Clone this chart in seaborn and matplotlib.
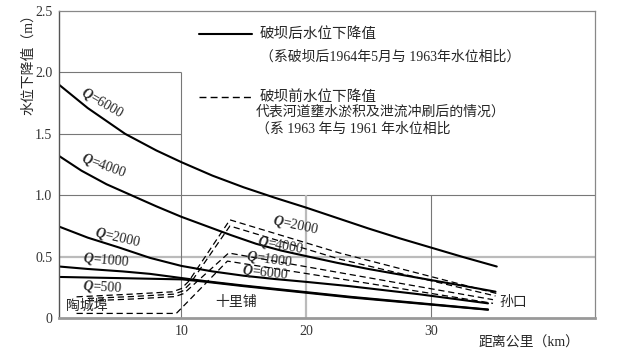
import numpy as np
import pandas as pd
import matplotlib
matplotlib.use("Agg")
from matplotlib import pyplot as plt
import seaborn as sns

# after dam break (solid), 1964-05 vs 1963
km_6000 = [0.2, 2.5, 5.5, 8.0, 10.0, 12.5, 15.0, 17.5, 20.0, 22.5, 25.0, 27.5, 30.0, 32.5, 35.3]
dr_6000 = [1.90, 1.71, 1.50, 1.365, 1.27, 1.16, 1.065, 0.98, 0.90, 0.815, 0.73, 0.65, 0.575, 0.50, 0.42]
km_4000 = [0.2, 2.0, 4.0, 6.0, 8.0, 10.0, 12.0, 14.0, 16.0, 18.0, 20.0, 22.5, 25.0, 27.5, 30.0, 32.5, 35.2]
dr_4000 = [1.32, 1.20, 1.09, 1.0, 0.91, 0.825, 0.75, 0.675, 0.605, 0.55, 0.505, 0.45, 0.40, 0.355, 0.31, 0.265, 0.215]
km_2000 = [0.2, 2.5, 5.0, 7.5, 10.0, 12.5, 15.0, 17.5, 20.0, 23.5, 29.0, 34.6]
dr_2000 = [0.745, 0.655, 0.575, 0.49, 0.425, 0.38, 0.345, 0.318, 0.295, 0.26, 0.195, 0.12]
km_1000 = [0.2, 2.5, 5.3, 7.5, 10.1, 12.0, 15.0, 23.6, 34.6]
dr_1000 = [0.42, 0.40, 0.38, 0.36, 0.325, 0.30, 0.265, 0.173, 0.07]
km_500 = [0.2, 5.3, 10.1, 12.0, 15.0, 23.6, 34.6]
dr_500 = [0.335, 0.325, 0.315, 0.295, 0.26, 0.168, 0.068]

# before dam break (dashed), 1963 vs 1961
kb_2000 = [1.6, 6.0, 9.3, 10.0, 10.6, 13.9, 22.7, 35.3]
db_2000 = [0.173, 0.195, 0.214, 0.24, 0.30, 0.80, 0.53, 0.20]
kb_4000 = [2.5, 6.0, 9.4, 10.1, 10.7, 13.9, 22.7, 35.2]
db_4000 = [0.16, 0.175, 0.195, 0.22, 0.28, 0.75, 0.48, 0.18]
kb_1000 = [2.5, 6.0, 9.5, 10.2, 10.8, 13.8, 22.7, 35.0]
db_1000 = [0.14, 0.155, 0.175, 0.20, 0.255, 0.53, 0.37, 0.15]
kb_6000 = [1.6, 9.6, 13.7, 22.7, 35.0]
db_6000 = [0.038, 0.038, 0.464, 0.32, 0.12]

rows = []
series = [("a6000", "after", km_6000, dr_6000), ("a4000", "after", km_4000, dr_4000),
          ("a2000", "after", km_2000, dr_2000), ("a1000", "after", km_1000, dr_1000),
          ("a500", "after", km_500, dr_500), ("b2000", "before", kb_2000, db_2000),
          ("b4000", "before", kb_4000, db_4000), ("b1000", "before", kb_1000, db_1000),
          ("b6000", "before", kb_6000, db_6000)]
for name, kind, xs, ys in series:
    for x, y in zip(xs, ys):
        rows.append({"km": x, "drop": y, "line": name, "kind": kind})
df = pd.DataFrame(rows)

sns.set_style("white")
plt.rcParams['font.family'] = ['Liberation Serif', 'Noto Sans CJK SC', 'DejaVu Sans']
plt.rcParams['mathtext.fontset'] = 'custom'
plt.rcParams['mathtext.bf'] = 'Liberation Serif:bold:italic'
plt.rcParams['mathtext.it'] = 'Liberation Serif:italic'
plt.rcParams['mathtext.rm'] = 'Liberation Serif'

fig = plt.figure(figsize=(6.22, 3.57), dpi=100)
ax = fig.add_axes([0.095, 0.109, 0.862, 0.860])

# partial grid
grid_dark = "#777777"
grid_light = "#bbbbbb"
ax.hlines([2.0, 1.5], 0.2, 10, color=grid_dark, lw=0.8)
ax.hlines(1.0, 0.2, 43.2, color=grid_dark, lw=0.8)
ax.hlines(0.5, 0.2, 43.2, color=grid_light, lw=1.6)
ax.vlines(10, 0, 2.0, color=grid_dark, lw=0.8)
ax.vlines(20, 0, 1.0, color=grid_light, lw=1.6)
ax.vlines(30, 0, 1.0, color=grid_dark, lw=0.8)

sns.lineplot(data=df, x="km", y="drop", units="line", estimator=None, style="kind",
             dashes={"after": "", "before": (5, 3)}, color="black", sort=False,
             legend=False, ax=ax)
for ln in ax.lines:
    if ln.get_linestyle() == '-':
        ln.set_linewidth(1.5)
    else:
        ln.set_linewidth(0.9)

ax.set_xlim(0.2, 43.2)
ax.set_ylim(0, 2.5)
ax.set_xticks([10, 20, 30])
ax.set_xticklabels(["10", "20", "30"])
ax.set_yticks([0, 0.5, 1.0, 1.5, 2.0, 2.5])
ax.set_yticklabels(["0", "0.5", "1.0", "1.5", "2.0", "2.5"])
ax.tick_params(length=0, labelsize=10, colors="#333333", pad=5)
ax.set_xlabel("")
ax.set_ylabel("")
for s in ["top", "right"]:
    ax.spines[s].set_color("#888888")
    ax.spines[s].set_linewidth(0.9)
ax.spines["bottom"].set_color("#999999")
ax.spines["bottom"].set_linewidth(2.0)
ax.spines["left"].set_color("#555555")
ax.spines["left"].set_linewidth(1.0)

fig.text(0.045, 0.83, "水位下降值（m）", rotation=90, ha="center", va="center", fontsize=10)
fig.text(0.85, 0.04, "距离公里（km）", ha="center", va="center", fontsize=10)

# curve labels
lab = dict(fontsize=10, ha="center", va="center", rotation_mode="anchor")
ax.text(3.7, 1.75, r"$\mathbf{Q}$=$\mathit{6000}$", rotation=-30, **lab)
ax.text(3.8, 1.24, r"$\mathbf{Q}$=$\mathit{4000}$", rotation=-20, **lab)
ax.text(4.9, 0.66, r"$\mathbf{Q}$=$\mathit{2000}$", rotation=-13, **lab)
ax.text(4.0, 0.47, r"$\mathbf{Q}$=$\mathit{1000}$", rotation=-5, **lab)
ax.text(3.7, 0.25, r"$\mathbf{Q}$=$\mathit{500}$", rotation=-3, **lab)
ax.text(19.2, 0.76, r"$\mathbf{Q}$=$\mathit{2000}$", rotation=-12, **lab)
ax.text(18.0, 0.59, r"$\mathbf{Q}$=$\mathit{4000}$", rotation=-10, **lab)
ax.text(17.1, 0.48, r"$\mathbf{Q}$=$\mathit{1000}$", rotation=-8, **lab)
ax.text(16.7, 0.37, r"$\mathbf{Q}$=$\mathit{6000}$", rotation=-6, **lab)

ax.text(2.4, 0.10, "陶城埠", fontsize=10, ha="center", va="center")
ax.text(14.4, 0.13, "十里铺", fontsize=10, ha="center", va="center")
ax.text(36.6, 0.13, "孙口", fontsize=10, ha="center", va="center")

# legend block
ax.plot([11.4, 15.7], [2.31, 2.31], color="black", lw=1.5)
ax.plot([11.4, 15.7], [1.80, 1.80], color="black", lw=1.0, dashes=(5, 3))
ax.text(16.3, 2.31, "破坝后水位下降值", fontsize=10.5, va="center")
ax.text(16.3, 2.125, "（系破坝后1964年5月与 1963年水位相比）", fontsize=10, va="center")
ax.text(16.3, 1.80, "破坝前水位下降值", fontsize=10.5, va="center")
ax.text(16.0, 1.68, "代表河道壅水淤积及泄流冲刷后的情况）", fontsize=10, va="center")
ax.text(16.0, 1.54, "（系 1963 年与 1961 年水位相比", fontsize=10, va="center")

fig.savefig("out.png", dpi=100)
